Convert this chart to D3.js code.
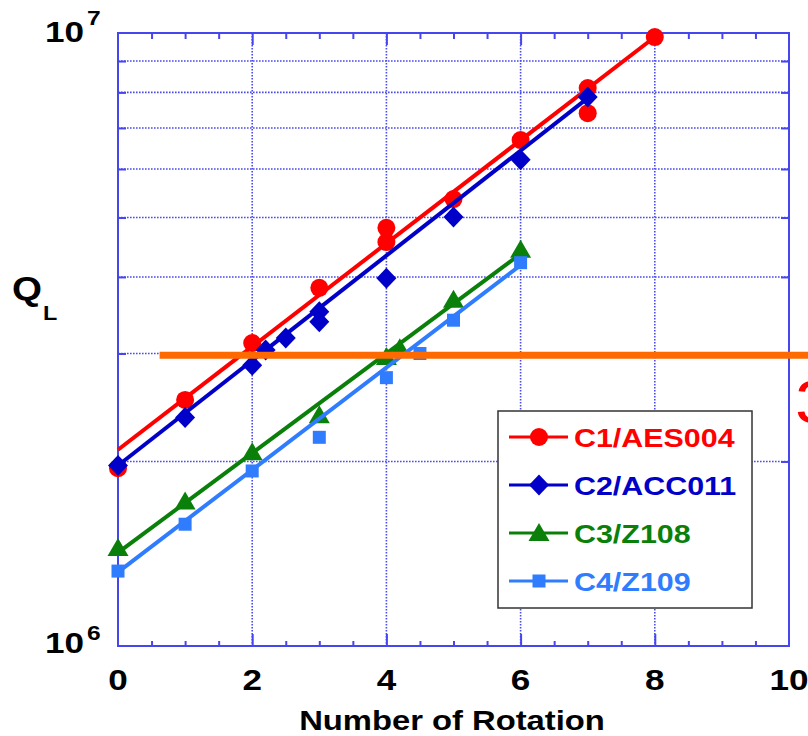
<!DOCTYPE html>
<html>
<head>
<meta charset="utf-8">
<script src="https://cdn.jsdelivr.net/npm/d3@7"></script>
<style>
body { margin: 0; background: #fff; }
</style>
</head>
<body>
<div id="chart"></div>
<script>
// values (Q_L vs number of rotation)
var rotC1 = [0, 1, 2, 3, 4, 4, 5, 6, 7, 7, 8];
var qC1 = [1.95e6, 2.52e6, 3.12e6, 3.84e6, 4.81e6, 4.56e6, 5.36e6, 6.69e6, 8.13e6, 7.40e6, 9.85e6];
var rotC2 = [0, 1, 2, 2.2, 2.5, 3, 3, 4, 5, 6, 7];
var qC2 = [1.97e6, 2.36e6, 2.87e6, 3.04e6, 3.18e6, 3.51e6, 3.38e6, 3.98e6, 5.01e6, 6.21e6, 7.86e6];
var rotC3 = [0, 1, 2, 3, 4, 4.2, 5, 6];
var qC3 = [1.445e6, 1.72e6, 2.07e6, 2.38e6, 2.96e6, 3.06e6, 3.67e6, 4.43e6];
var rotC4 = [0, 1, 2, 3, 4, 4.5, 5, 6];
var qC4 = [1.325e6, 1.58e6, 1.93e6, 2.19e6, 2.74e6, 3.0e6, 3.40e6, 4.22e6];

// fitted lines, start and end (rotation, Q)
var fitC1 = [[0, 2.09e6], [8, 9.85e6]];
var fitC2 = [[0, 1.97e6], [7, 7.83e6]];
var fitC3 = [[0, 1.42e6], [6, 4.36e6]];
var fitC4 = [[0, 1.32e6], [6, 4.18e6]];

var seriesNames = ["C1/AES004", "C2/ACC011", "C3/Z108", "C4/Z109"];
var xMajor = [0, 2, 4, 6, 8, 10];
var xMinor = [0.5, 1, 1.5, 2.5, 3, 3.5, 4.5, 5, 5.5, 6.5, 7, 7.5, 8.5, 9, 9.5];
var yMinor = [2e6, 3e6, 4e6, 5e6, 6e6, 7e6, 8e6, 9e6];
var limitQ = 2.98e6;

var width = 808, height = 736;
var plotL = 118, plotR = 789, plotT = 33, plotB = 646;
var sx = 1.17; // the text in the picture is a bit wide
var axisColor = "#4646ee";
var gridColor = "#4b4bee";

var colors = ["#ff0000", "#0000c8", "#0a800a", "#2f7cff"];
var shapes = ["circle", "diamond", "triangle", "square"];

var svg = d3.select("#chart").append("svg").attr("width", width).attr("height", height)
  .style("font-family", "'Liberation Sans', Arial, sans-serif");

var x = d3.scaleLinear().domain([0, 10]).range([plotL, plotR]);
var y = d3.scaleLog().domain([1e6, 1e7]).range([plotB, plotT]);

function txt(px, py, str, size, color, anchor, weight) {
  return svg.append("text")
    .attr("transform", "translate(" + px + "," + py + ") scale(" + sx + ",1)")
    .attr("text-anchor", anchor || "start")
    .attr("font-size", size)
    .attr("font-weight", weight || "bold")
    .attr("fill", color || "#000")
    .text(str);
}

function marker(g, shape, cx, cy, color) {
  if (shape === "circle") {
    g.append("circle").attr("cx", cx).attr("cy", cy).attr("r", 9).attr("fill", color);
  } else if (shape === "diamond") {
    g.append("path").attr("d", "M" + cx + "," + (cy - 10.5) + "L" + (cx + 10) + "," + cy +
      "L" + cx + "," + (cy + 10.5) + "L" + (cx - 10) + "," + cy + "Z").attr("fill", color);
  } else if (shape === "triangle") {
    g.append("path").attr("d", "M" + cx + "," + (cy - 10) + "L" + (cx + 10.5) + "," + (cy + 8) +
      "L" + (cx - 10.5) + "," + (cy + 8) + "Z").attr("fill", color);
  } else {
    g.append("rect").attr("x", cx - 6.5).attr("y", cy - 6.5).attr("width", 13).attr("height", 13).attr("fill", color);
  }
}

// grid
var grid = svg.append("g");
grid.selectAll(".hg").data(yMinor).enter().append("line")
  .attr("x1", plotL).attr("x2", plotR).attr("y1", function(d) { return y(d); }).attr("y2", function(d) { return y(d); })
  .attr("stroke", gridColor).attr("stroke-width", 1.6).attr("stroke-dasharray", "1.6,1.4");
grid.selectAll(".vg").data([2, 4, 6, 8]).enter().append("line")
  .attr("y1", plotT).attr("y2", plotB).attr("x1", function(d) { return x(d); }).attr("x2", function(d) { return x(d); })
  .attr("stroke", gridColor).attr("stroke-width", 1.6).attr("stroke-dasharray", "1.6,1.4");

// axes (ticks point inward)
function styleAxis(g) {
  g.select(".domain").remove();
  g.selectAll("line").attr("stroke", axisColor).attr("stroke-width", 2);
}
svg.append("g").attr("transform", "translate(0," + plotB + ")")
  .call(d3.axisBottom(x).tickValues(xMinor).tickSize(-5).tickFormat("")).call(styleAxis);
svg.append("g").attr("transform", "translate(0," + plotB + ")")
  .call(d3.axisBottom(x).tickValues([2, 4, 6, 8]).tickSize(-12).tickFormat("")).call(styleAxis);
svg.append("g").attr("transform", "translate(0," + plotT + ")")
  .call(d3.axisTop(x).tickValues(xMinor).tickSize(-6).tickFormat("")).call(styleAxis);
svg.append("g").attr("transform", "translate(0," + plotT + ")")
  .call(d3.axisTop(x).tickValues([2, 4, 6, 8]).tickSize(-12).tickFormat("")).call(styleAxis);
svg.append("g").attr("transform", "translate(" + plotL + ",0)")
  .call(d3.axisLeft(y).tickValues(yMinor).tickSize(-8).tickFormat("")).call(styleAxis);
svg.append("g").attr("transform", "translate(" + plotR + ",0)")
  .call(d3.axisRight(y).tickValues(yMinor).tickSize(-8).tickFormat("")).call(styleAxis);

svg.append("rect").attr("x", plotL).attr("y", plotT).attr("width", plotR - plotL).attr("height", plotB - plotT)
  .attr("fill", "none").attr("stroke", axisColor).attr("stroke-width", 2);

// tick labels
xMajor.forEach(function(v) { txt(x(v), 690, String(v), 30, "#000", "middle"); });
txt(84, 42, "10", 30, "#000", "end");
txt(87, 25, "7", 21, "#000", "start");
txt(84, 653, "10", 30, "#000", "end");
txt(87, 640, "6", 21, "#000", "start");

txt(12, 300, "Q", 33, "#000", "start");
txt(43, 320, "L", 20, "#000", "start");
txt(452, 730, "Number of Rotation", 28, "#000", "middle");

// series
var rots = [rotC1, rotC2, rotC3, rotC4];
var qs = [qC1, qC2, qC3, qC4];
var fits = [fitC1, fitC2, fitC3, fitC4];
var line = d3.line().x(function(d) { return x(d[0]); }).y(function(d) { return y(d[1]); });

for (var i = 0; i < 4; i++) {
  var g = svg.append("g");
  g.append("path").attr("d", line(fits[i])).attr("fill", "none")
    .attr("stroke", colors[i]).attr("stroke-width", 4);
  for (var j = 0; j < rots[i].length; j++) {
    marker(g, shapes[i], x(rots[i][j]), y(qs[i][j]), colors[i]);
  }
}

// orange limit line
svg.append("line").attr("x1", x(0.62)).attr("x2", width)
  .attr("y1", y(limitQ)).attr("y2", y(limitQ))
  .attr("stroke", "#ff6a00").attr("stroke-width", 7);

// partly cut off at the right edge, as in the picture
txt(795, 423, "3", 62, "#ff0000", "start", "normal");

// legend
var lg = svg.append("g");
lg.append("rect").attr("x", 498).attr("y", 411).attr("width", 254).attr("height", 197)
  .attr("fill", "#fff").attr("stroke", "#333").attr("stroke-width", 1.5);
seriesNames.forEach(function(name, i) {
  var ry = 437 + i * 48;
  lg.append("line").attr("x1", 509).attr("x2", 568).attr("y1", ry).attr("y2", ry)
    .attr("stroke", colors[i]).attr("stroke-width", 3);
  marker(lg, shapes[i], 539, ry, colors[i]);
  txt(574, ry + 9.5, name, 26, colors[i], "start");
});
</script>
</body>
</html>
